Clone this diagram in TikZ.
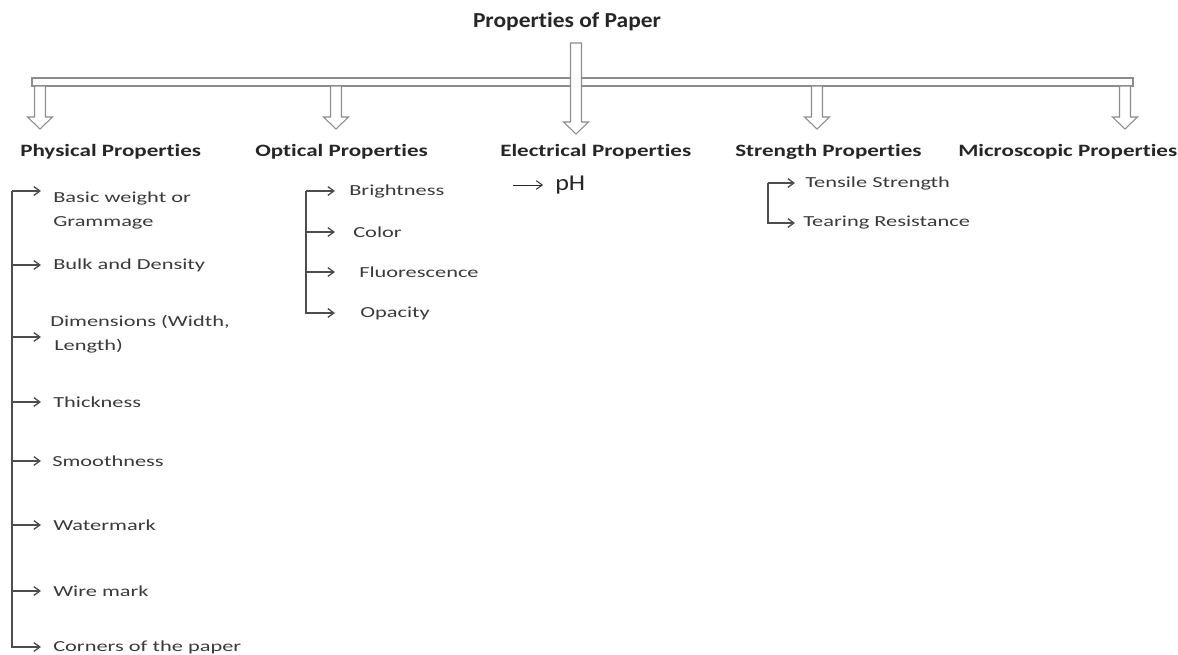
\documentclass[tikz,border=0pt]{standalone}
\usepackage{fontspec}
\setmainfont[Ligatures=NoCommon]{Carlito}
\newfontfamily\bodyfont[FakeStretch=1.46, Ligatures=NoCommon]{Carlito}
\newfontfamily\catfont[FakeStretch=1.33, Ligatures=NoCommon]{Carlito}
\newfontfamily\titlefont[FakeStretch=1.1, Ligatures=NoCommon]{Carlito}
\newfontfamily\phfont[FakeStretch=1.15]{Carlito}
\usetikzlibrary{arrows.meta, positioning, calc}
\definecolor{textcol}{HTML}{262626}
\definecolor{itemcol}{HTML}{3A3A3A}
\definecolor{linecol}{HTML}{4D4D4D}
\definecolor{barcol}{HTML}{8C8C8C}

% hollow block arrow pointing down: #1 = top centre, #2 = shaft length
\newcommand{\downblock}[2]{%
  \draw[hollow] ($(#1)+(-5.5,0)$) -- ++(0,#2) -- ++(-7,0) -- ++(12.5,12)
    -- ++(12.5,-12) -- ++(-7,0) -- ++(0,-#2) -- cycle;}

\begin{document}
\begin{tikzpicture}[
    x=0.75pt, y=-0.75pt,
    >={Straight Barb[length=4.5pt, width=6.5pt]},
    title/.style={font=\titlefont\bfseries\fontsize{16}{18}\selectfont, text=textcol},
    cat/.style={font=\catfont\bfseries\fontsize{13}{15}\selectfont, text=textcol,
        anchor=west, inner sep=0pt},
    item/.style={font=\bodyfont\fontsize{11.5}{18}\selectfont, text=itemcol,
        anchor=west, inner sep=0pt, align=left},
    link/.style={->, linecol, line width=1pt},
    hollow/.style={draw=barcol, fill=white, line width=0.8pt},
]
\useasboundingbox (0,0) rectangle (1178,655);

% ── Title and bar ──
\node[title] (paper) at (567,22) {Properties of Paper};
\draw[hollow] (32,78) rectangle (1133,86);
\coordinate (paperdown) at (576,43);
\draw[hollow] ($(paperdown)+(-5.5,0)$) -- ++(0,79) -- ++(-7,0) -- ++(12.5,12)
    -- ++(12.5,-12) -- ++(-7,0) -- ++(0,-79) -- cycle;

% ── Categories ──
\node[cat] (phys)  at (20,152)  {Physical Properties};
\node[cat] (opt)   at (255,152) {Optical Properties};
\node[cat] (elec)  at (500,152) {Electrical Properties};
\node[cat] (str)   at (735,152) {Strength Properties};
\node[cat] (micro) at (958,152) {Microscopic Properties};

\coordinate (physdown)  at (40,86);
\coordinate (optdown)   at (336,86);
\coordinate (strdown)   at (817,86);
\coordinate (microdown) at (1125,86);
\downblock{physdown}{31}
\downblock{optdown}{31}
\downblock{strdown}{31}
\downblock{microdown}{31}

% ── Physical properties ──
\node[item] (grammage)   at (53,210) {Basic weight or\\Grammage};
\node[item] (bulk)       at (53,265) {Bulk and Density};
\node[item] (dimensions) at (50,334) {Dimensions (Width,\\\hspace{3pt}Length)};
\node[item] (thickness)  at (53,402) {Thickness};
\node[item] (smooth)     at (52,461) {Smoothness};
\node[item] (watermark)  at (53,525) {Watermark};
\node[item] (wiremark)   at (53,591) {Wire mark};
\node[item] (corners)    at (53,647) {Corners of the paper};

\coordinate (physbus) at (12,191);
\coordinate (physend) at (41,0);
\draw[link] (physbus) -- (physbus -| physend);
\draw[link] (physbus) |- (0,337 -| physend);
\foreach \n in {bulk, thickness, smooth, watermark, wiremark, corners}
    \draw[link] (physbus) |- (\n.west -| physend);

% ── Optical properties ──
\node[item] (bright)  at (349,191) {Brightness};
\node[item] (color)   at (353,232) {Color};
\node[item] (fluor)   at (359,272) {Fluorescence};
\node[item] (opacity) at (360,313) {Opacity};

\coordinate (optbus) at (306,191);
\coordinate (optend) at (335,0);
\foreach \n in {bright, color, fluor, opacity}
    \draw[link] (optbus) |- (\n.west -| optend);

% ── Electrical properties ──
\node[font=\phfont\fontsize{17}{20}\selectfont, text=textcol, anchor=west, inner sep=0pt]
    (ph) at (555,185) {pH};
\coordinate (phin) at (513,185);
\draw[->, textcol, line width=0.7pt, shorten >=9pt] (phin) -- (ph.west);

% ── Strength properties ──
\node[item] (tensile) at (805,183) {Tensile Strength};
\node[item] (tearing) at (803,223) {Tearing Resistance};

\coordinate (strbus) at (768,183);
\coordinate (strend) at (795,0);
\foreach \n in {tensile, tearing}
    \draw[link] (strbus) |- (\n.west -| strend);

\end{tikzpicture}
\end{document}
